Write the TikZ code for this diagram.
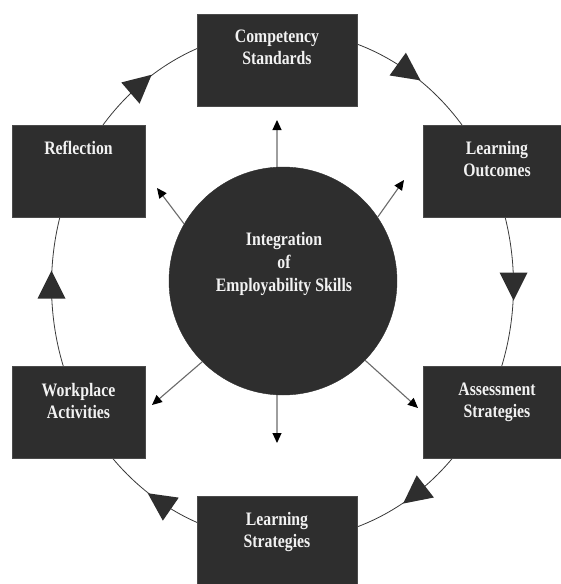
\documentclass[tikz,border=0pt]{standalone}
\usepackage{fontspec}
\setmainfont{Liberation Serif}[FakeStretch=0.83]
\usetikzlibrary{calc,arrows.meta}

\definecolor{boxfill}{HTML}{2E2E2E}
\definecolor{boxedge}{HTML}{4A4A4A}
\definecolor{ringline}{HTML}{3A3A3A}
\definecolor{spokeline}{HTML}{6A6A6A}
\definecolor{labeltext}{HTML}{F2F2F2}

\tikzset{
  stage/.style={rectangle, fill=boxfill, draw=boxedge, line width=0.8pt,
    inner sep=0pt, minimum height=92pt},
  stagetext/.style={anchor=north, inner sep=0pt, align=center, text=labeltext,
    font=\bfseries\fontsize{19}{22}\selectfont},
  hub/.style={circle, fill=boxfill, draw=boxfill, minimum size=228pt, inner sep=0pt},
  ring/.style={draw=ringline, line width=0.8pt},
  spoke/.style={draw=spokeline, line width=1.1pt,
    -{Triangle[length=10pt,width=9pt,color=black]}},
  flowtip/.pic={\fill[boxfill] (15pt,0pt) -- (-13pt,14pt) -- (-13pt,-14pt) -- cycle;}
}

\begin{document}
\begin{tikzpicture}[x=1pt,y=1pt]
  \useasboundingbox (0,0) rectangle (561,-584);
  \fill[white] (0,0) rectangle (561,-584);

  % the cycle ring
  \coordinate (ringc) at (282.5,-285.5);
  \draw[ring] (ringc) ellipse [x radius=231pt, y radius=255pt];

  % stages of the cycle
  \node[stage, minimum width=160pt] (comp) at (277,-60) {};
  \node[stage, minimum width=148pt] (outc) at (497,-171) {};
  \node[stage, minimum width=148pt] (asse) at (497,-412) {};
  \node[stage, minimum width=160pt] (lstr) at (277,-542) {};
  \node[stage, minimum width=133pt] (work) at (78.5,-412.5) {};
  \node[stage, minimum width=133pt] (refl) at (78.5,-171) {};

  \node[stagetext] (compText) at (277,-30) {Competency\\Standards};
  \node[stagetext] (outcText) at (497,-141) {Learning\\Outcomes};
  \node[stagetext] (asseText) at (497,-383) {Assessment\\Strategies};
  \node[stagetext] (lstrText) at (277,-512) {Learning\\Strategies};
  \node[stagetext] (workText) at (78.5,-383) {Workplace\\Activities};
  \node[stagetext] (reflText) at (78.5,-141) {Reflection};

  % clockwise flow marks on the ring
  \foreach \t in {57,128,180,-122,-55,0} {
    \pgfmathsetmacro\r{atan2(-255*cos(\t),231*sin(\t))}
    \pic[rotate=\r] at ($(ringc)+(\t:231 and 255)$) {flowtip};
  }

  % central hub
  \node[hub] (core) at (283,-281) {};
  \node[stagetext, font=\bfseries\fontsize{19}{23}\selectfont] (coreText) at (284,-232)
    {Integration\\of\\Employability Skills};

  % spokes from the hub
  \coordinate (tipN)  at (277,-120);
  \coordinate (tipS)  at (277,-443);
  \coordinate (tipNW) at (157,-188);
  \coordinate (tipNE) at (404,-180);
  \coordinate (tipSW) at (152,-405);
  \coordinate (tipSE) at (418,-408);
  \draw[spoke] (core.93)  -- (tipN);
  \draw[spoke] (core.267) -- (tipS);
  \draw[spoke] (core.150) -- (tipNW);
  \draw[spoke] (core.34)  -- (tipNE);
  \draw[spoke] (core.225) -- (tipSW);
  \draw[spoke] (core.316) -- (tipSE);
\end{tikzpicture}
\end{document}
